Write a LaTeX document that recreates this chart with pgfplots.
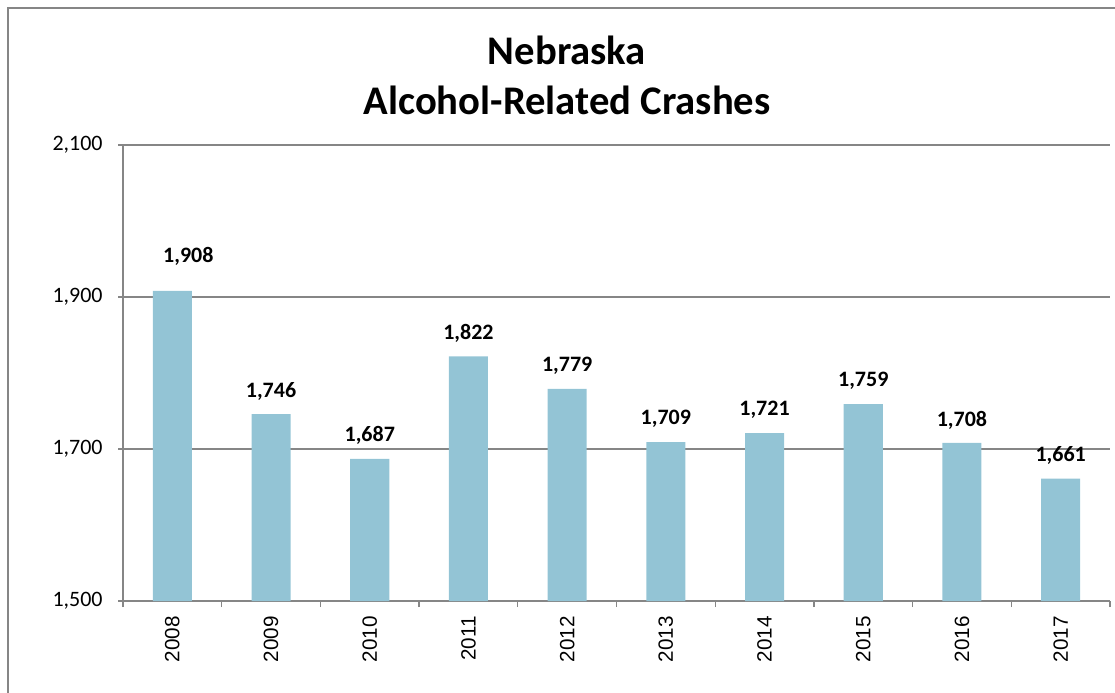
\documentclass[border=0pt]{standalone}
\usepackage{pgfplots}
\pgfplotsset{compat=1.18}
\usepackage{fontspec}
\setmainfont{Carlito}
\newfontfamily\arial{Liberation Sans}
\definecolor{barc}{RGB}{147,196,213}
\definecolor{axc}{RGB}{134,134,134}
\begin{document}
\begin{tikzpicture}
\useasboundingbox (0,0) rectangle (836.25pt,-519.75pt);
\draw[axc, line width=1pt] (6pt,-519.75pt) |- (836.25pt,-6pt);
\node[font=\fontsize{30.5}{34}\selectfont\bfseries] at (425.25pt,-37.5pt) {Nebraska};
\node[font=\fontsize{30.5}{34}\selectfont\bfseries] at (425.25pt,-75pt) {Alcohol-Related Crashes};
\begin{axis}[
  at={(92.25pt,-450.75pt)}, anchor=south west,
  scale only axis, width=740.25pt, height=342pt,
  ymin=1500, ymax=2100, ytick={1500,1700,1900,2100},
  xmin=-0.5, xmax=9.5,
  xtick={0,...,9},
  xticklabels={2008,2009,2010,2011,2012,2013,2014,2015,2016,2017},
  minor xtick={-0.5,0.5,...,9.5},
  axis lines*=left,
  axis line style={axc, line width=1pt, -},
  ymajorgrids, grid style={axc, line width=1pt},
  tick align=outside,
  x tick style={draw=none},
  minor x tick style={draw=axc, line width=1pt},
  minor tick length=4.5pt,
  y tick style={axc, line width=1pt},
  major tick length=3.75pt,
  xticklabel style={font=\arial\fontsize{15.5}{18}\selectfont, rotate=90, anchor=east, xshift=-4pt},
  yticklabel style={font=\fontsize{16.5}{19}\selectfont, xshift=-8pt},
  /pgf/number format/assume math mode=true,
  /pgf/number format/.cd, 1000 sep={,}, /pgfplots/.cd,
  ybar, bar width=29.3pt,
  nodes near coords,
  visualization depends on={\thisrow{off} \as \off},
  visualization depends on={\thisrow{xoff} \as \xoff},
  every node near coord/.append style={font=\fontsize{16.5}{19}\selectfont\bfseries, anchor=center, yshift=\off pt, xshift=\xoff pt, black},
  clip=false,
]
\addplot[fill=barc, draw=none] table[x=x, y=y] {
x y off xoff
0 1908 26.25 12
1 1746 17.25 0
2 1687 17.25 0
3 1822 17.25 0
4 1779 17.25 0
5 1709 17.25 0
6 1721 17.25 0
7 1759 17.25 0
8 1708 17.25 0
9 1661 17.25 0
};
\end{axis}
\end{tikzpicture}
\end{document}
